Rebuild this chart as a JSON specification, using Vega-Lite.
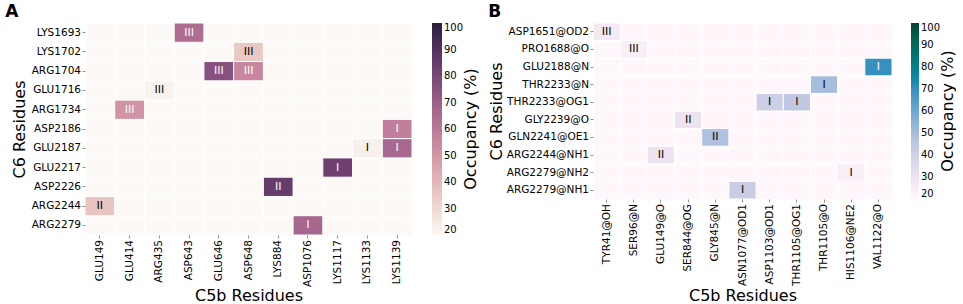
{
  "$schema": "https://vega.github.io/schema/vega-lite/v6.json",
  "padding": {"left": 5, "top": 2, "right": 0, "bottom": 0},
  "background": "white",
  "config": {
    "font": "DejaVu Sans",
    "view": {"stroke": null},
    "axis": {"labelFont": "DejaVu Sans", "labelFontSize": 10.5, "labelColor": "#000", "titleFont": "DejaVu Sans", "titleFontSize": 16, "titleFontWeight": "normal", "titleColor": "#000", "tickColor": "#777", "tickSize": 3, "tickWidth": 0.8, "domain": false, "labelPadding": 1.5, "titlePadding": 2},
    "legend": {"labelFont": "DejaVu Sans", "labelFontSize": 10, "labelColor": "#000", "titleFont": "DejaVu Sans", "titleFontSize": 16, "titleFontWeight": "normal", "titleColor": "#000", "titleOrient": "right", "titleAnchor": "middle", "titlePadding": 0, "labelOffset": 3, "gradientStrokeWidth": 0, "direction": "vertical"},
    "concat": {"spacing": 9},
    "title": {"font": "DejaVu Sans", "fontSize": 17, "fontWeight": "bold", "color": "#000", "anchor": "start", "frame": "bounds", "offset": 2}
  },
  "resolve": {"scale": {"color": "independent"}, "legend": {"color": "independent"}},
  "hconcat": [
    {
      "width": 327,
      "height": 212,
      "title": {"text": "A", "dx": -6},
      "view": {"fill": "#fcf9f7", "stroke": null},
      "data": {"values": [
        {"c6": "LYS1693", "c5b": "ASP643", "occ": 64, "lab": "III"},
        {"c6": "LYS1702", "c5b": "ASP648", "occ": 35, "lab": "III"},
        {"c6": "ARG1704", "c5b": "GLU646", "occ": 76, "lab": "III"},
        {"c6": "ARG1704", "c5b": "ASP648", "occ": 55, "lab": "III"},
        {"c6": "GLU1716", "c5b": "ARG435", "occ": 22, "lab": "III"},
        {"c6": "ARG1734", "c5b": "GLU414", "occ": 51, "lab": "III"},
        {"c6": "ASP2186", "c5b": "LYS1139", "occ": 58, "lab": "I"},
        {"c6": "GLU2187", "c5b": "LYS1133", "occ": 23, "lab": "I"},
        {"c6": "GLU2187", "c5b": "LYS1139", "occ": 66, "lab": "I"},
        {"c6": "GLU2217", "c5b": "LYS1117", "occ": 83, "lab": "I"},
        {"c6": "ASP2226", "c5b": "LYS884", "occ": 85, "lab": "II"},
        {"c6": "ARG2244", "c5b": "GLU149", "occ": 36, "lab": "II"},
        {"c6": "ARG2279", "c5b": "ASP1076", "occ": 67, "lab": "I"}
      ]},
      "layer": [
        {
          "mark": {"type": "rect", "stroke": "white", "strokeWidth": 1},
          "encoding": {
            "x": {"field": "c5b", "type": "nominal", "sort": null,
              "scale": {"domain": ["GLU149", "GLU414", "ARG435", "ASP643", "GLU646", "ASP648", "LYS884", "ASP1076", "LYS1117", "LYS1133", "LYS1139"], "paddingInner": 0, "paddingOuter": 0},
              "axis": {"orient": "bottom", "labelAngle": -90, "title": "C5b Residues", "grid": false, "titleY": 65, "titleBaseline": "alphabetic"}},
            "y": {"field": "c6", "type": "nominal", "sort": null,
              "scale": {"domain": ["LYS1693", "LYS1702", "ARG1704", "GLU1716", "ARG1734", "ASP2186", "GLU2187", "GLU2217", "ASP2226", "ARG2244", "ARG2279"], "paddingInner": 0, "paddingOuter": 0},
              "axis": {"orient": "left", "title": "C6 Residues", "grid": false, "titlePadding": 4}},
            "color": {"field": "occ", "type": "quantitative",
              "scale": {"domain": [20, 27.7, 42.2, 56.6, 71.1, 85.5, 100], "range": ["#fcf9f7", "#f3e1da", "#e1b0b4", "#c4829c", "#9a5b88", "#643b6b", "#2d1e3e"], "clamp": true},
              "legend": {"title": "Occupancy (%)", "values": [20, 30, 40, 50, 60, 70, 80, 90, 100], "gradientLength": 212, "gradientThickness": 10, "offset": 20,
                "encode": {"title": {"update": {"angle": {"value": -90}, "baseline": {"value": "top"}}}}}}
          }
        },
        {
          "mark": {"type": "text", "fontSize": 11, "font": "DejaVu Sans"},
          "encoding": {
            "x": {"field": "c5b", "type": "nominal", "sort": null,
              "axis": {"orient": "top", "grid": true, "gridColor": "white", "gridWidth": 1, "tickBand": "extent", "labels": false, "ticks": false, "domain": false, "title": null}},
            "y": {"field": "c6", "type": "nominal", "sort": null,
              "axis": {"orient": "right", "grid": true, "gridColor": "white", "gridWidth": 1, "tickBand": "extent", "labels": false, "ticks": false, "domain": false, "title": null}},
            "text": {"field": "lab"},
            "color": {"condition": {"test": "datum.occ > 45", "value": "white"}, "value": "black"}
          }
        }
      ],
      "resolve": {"axis": {"x": "independent", "y": "independent"}}
    },
    {
      "width": 299,
      "height": 176,
      "title": {"text": "B", "dx": 0},
      "view": {"fill": "#fff7fb", "stroke": null},
      "data": {"values": [
        {"c6": "ASP1651@OD2", "c5b": "TYR41@OH", "occ": 26, "lab": "III"},
        {"c6": "PRO1688@O", "c5b": "SER96@N", "occ": 24, "lab": "III"},
        {"c6": "GLU2188@N", "c5b": "VAL1122@O", "occ": 70, "lab": "I"},
        {"c6": "THR2233@N", "c5b": "THR1105@O", "occ": 50, "lab": "I"},
        {"c6": "THR2233@OG1", "c5b": "ASP1103@OD1", "occ": 41, "lab": "I"},
        {"c6": "THR2233@OG1", "c5b": "THR1105@OG1", "occ": 44, "lab": "I"},
        {"c6": "GLY2239@O", "c5b": "SER844@OG", "occ": 29, "lab": "II"},
        {"c6": "GLN2241@OE1", "c5b": "GLY845@N", "occ": 48, "lab": "II"},
        {"c6": "ARG2244@NH1", "c5b": "GLU149@O", "occ": 29, "lab": "II"},
        {"c6": "ARG2279@NH2", "c5b": "HIS1106@NE2", "occ": 24, "lab": "I"},
        {"c6": "ARG2279@NH1", "c5b": "ASN1077@OD1", "occ": 42, "lab": "I"}
      ]},
      "layer": [
        {
          "mark": {"type": "rect", "stroke": "white", "strokeWidth": 1},
          "encoding": {
            "x": {"field": "c5b", "type": "nominal", "sort": null,
              "scale": {"domain": ["TYR41@OH", "SER96@N", "GLU149@O", "SER844@OG", "GLY845@N", "ASN1077@OD1", "ASP1103@OD1", "THR1105@OG1", "THR1105@O", "HIS1106@NE2", "VAL1122@O"], "paddingInner": 0, "paddingOuter": 0},
              "axis": {"orient": "bottom", "labelAngle": -90, "title": "C5b Residues", "grid": false, "titleY": 101, "titleBaseline": "alphabetic"}},
            "y": {"field": "c6", "type": "nominal", "sort": null,
              "scale": {"domain": ["ASP1651@OD2", "PRO1688@O", "GLU2188@N", "THR2233@N", "THR2233@OG1", "GLY2239@O", "GLN2241@OE1", "ARG2244@NH1", "ARG2279@NH2", "ARG2279@NH1"], "paddingInner": 0, "paddingOuter": 0},
              "axis": {"orient": "left", "title": "C6 Residues", "grid": false}},
            "color": {"field": "occ", "type": "quantitative",
              "scale": {"domain": [20, 30, 40, 50, 60, 70, 80, 90, 100], "range": ["#fff7fb", "#ece2f0", "#d0d1e6", "#a6bddb", "#67a9cf", "#3690c0", "#02818a", "#016c59", "#014636"], "clamp": true},
              "legend": {"title": "Occupancy (%)", "values": [20, 30, 40, 50, 60, 70, 80, 90, 100], "gradientLength": 176, "gradientThickness": 8, "offset": 19,
                "encode": {"title": {"update": {"angle": {"value": -90}, "baseline": {"value": "top"}}}}}}
          }
        },
        {
          "mark": {"type": "text", "fontSize": 11, "font": "DejaVu Sans"},
          "encoding": {
            "x": {"field": "c5b", "type": "nominal", "sort": null,
              "axis": {"orient": "top", "grid": true, "gridColor": "white", "gridWidth": 1, "tickBand": "extent", "labels": false, "ticks": false, "domain": false, "title": null}},
            "y": {"field": "c6", "type": "nominal", "sort": null,
              "axis": {"orient": "right", "grid": true, "gridColor": "white", "gridWidth": 1, "tickBand": "extent", "labels": false, "ticks": false, "domain": false, "title": null}},
            "text": {"field": "lab"},
            "color": {"condition": {"test": "datum.occ > 60", "value": "white"}, "value": "black"}
          }
        }
      ],
      "resolve": {"axis": {"x": "independent", "y": "independent"}}
    }
  ]
}
